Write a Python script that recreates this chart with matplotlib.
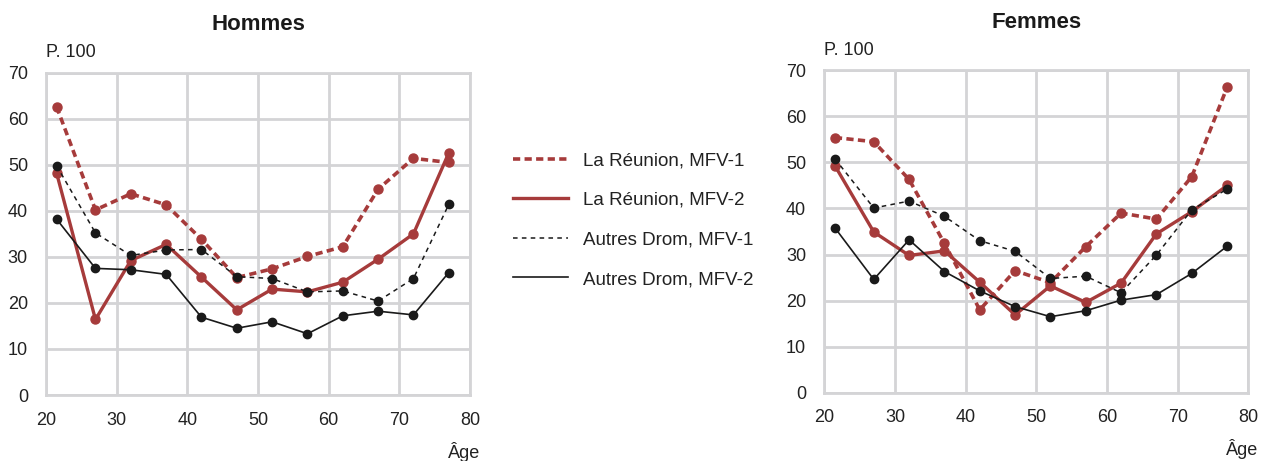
import matplotlib
matplotlib.use("Agg")
import matplotlib.pyplot as plt
from matplotlib.lines import Line2D

plt.rcParams['font.family'] = ['Liberation Sans', 'DejaVu Sans']

ages = [21.5, 27, 32, 37, 42, 47, 52, 57, 62, 67, 72, 77]

# Hommes
h_reu_mfv1 = [62.6, 40.2, 43.7, 41.3, 33.8, 25.5, 27.4, 30.1, 32.2, 44.7, 51.4, 50.5]
h_reu_mfv2 = [48.2, 16.4, 29.2, 32.7, 25.6, 18.5, 23.0, 22.4, 24.5, 29.5, 35.0, 52.6]
h_aut_mfv1 = [49.8, 35.2, 30.3, 31.5, 31.6, 25.7, 25.3, 22.4, 22.6, 20.4, 25.3, 41.4]
h_aut_mfv2 = [38.2, 27.5, 27.2, 26.2, 16.9, 14.5, 15.9, 13.3, 17.2, 18.2, 17.4, 26.6]

# Femmes
f_reu_mfv1 = [55.4, 54.5, 46.3, 32.4, 18.0, 26.5, 23.9, 31.7, 39.0, 37.7, 46.9, 66.3]
f_reu_mfv2 = [49.3, 34.9, 29.8, 30.8, 24.0, 16.9, 23.2, 19.6, 23.8, 34.5, 39.3, 45.0]
f_aut_mfv1 = [50.8, 40.1, 41.6, 38.3, 33.0, 30.7, 24.8, 25.3, 21.7, 29.9, 39.7, 44.2]
f_aut_mfv2 = [35.8, 24.6, 33.2, 26.3, 22.1, 18.7, 16.5, 17.8, 20.1, 21.3, 25.9, 31.8]

labels = ["La Réunion, MFV-1", "La Réunion, MFV-2", "Autres Drom, MFV-1", "Autres Drom, MFV-2"]
titles = ["Hommes", "Femmes"]
xticks = [20, 30, 40, 50, 60, 70, 80]
yticks = [0, 10, 20, 30, 40, 50, 60, 70]

RED = '#a63b3b'
BLK = '#1a1a1a'
GRID = '#d4d4d6'
TXT = '#222222'

styles = [
    dict(color=RED, lw=2.6, dashes=(2.0, 1.2), marker='o', ms=6.5),
    dict(color=RED, lw=2.4, ls='-', marker='o', ms=6.5),
    dict(color=BLK, lw=1.1, dashes=(3.0, 2.8), marker='o', ms=6),
    dict(color=BLK, lw=1.2, ls='-', marker='o', ms=6),
]

W, H = 1262, 461
fig = plt.figure(figsize=(W / 100, H / 100), dpi=100)

panels = [
    ((46, 72.7, 470, 395), [h_reu_mfv1, h_reu_mfv2, h_aut_mfv1, h_aut_mfv2], 25),
    ((824.3, 70.3, 1248.3, 392.7), [f_reu_mfv1, f_reu_mfv2, f_aut_mfv1, f_aut_mfv2], 22),
]

for i, ((x0, y0, x1, y1), series, ty) in enumerate(panels):
    ax = fig.add_axes([x0 / W, 1 - y1 / H, (x1 - x0) / W, (y1 - y0) / H])
    for data, st in zip(series, styles):
        ax.plot(ages, data, clip_on=False, zorder=3, **st)
    ax.set_xlim(20, 80)
    ax.set_ylim(0, 70)
    ax.set_xticks(xticks)
    ax.set_yticks(yticks)
    ax.grid(True, color=GRID, lw=2.0, zorder=0)
    ax.set_axisbelow(True)
    for sp in ax.spines.values():
        sp.set_color(GRID)
        sp.set_linewidth(2.0)
    ax.tick_params(length=0, labelsize=13, colors=TXT)
    ax.tick_params(axis='x', pad=12)
    ax.tick_params(axis='y', pad=13)
    fig.text((x0 + x1) / 2 / W, 1 - ty / H, titles[i], fontsize=16, fontweight='bold',
             ha='center', va='center', color='#1a1a1a')
    ax.text(0.0, 1.035, "P. 100", transform=ax.transAxes, fontsize=13,
            ha='left', va='bottom', color=TXT)
    ax.text(0.985, -0.145, "Âge", transform=ax.transAxes, fontsize=13,
            ha='center', va='top', color=TXT)

handles = [Line2D([0], [0], **{k: v for k, v in st.items() if k not in ('marker', 'ms')}) for st in styles]
fig.legend(handles, labels, loc='upper left', bbox_to_anchor=(513 / W, 1 - 152 / H),
           frameon=False, fontsize=13.5, handlelength=2.95, handletextpad=0.8,
           labelspacing=1.2, borderpad=0, borderaxespad=0, labelcolor=TXT)

fig.savefig("out.png", dpi=100)
